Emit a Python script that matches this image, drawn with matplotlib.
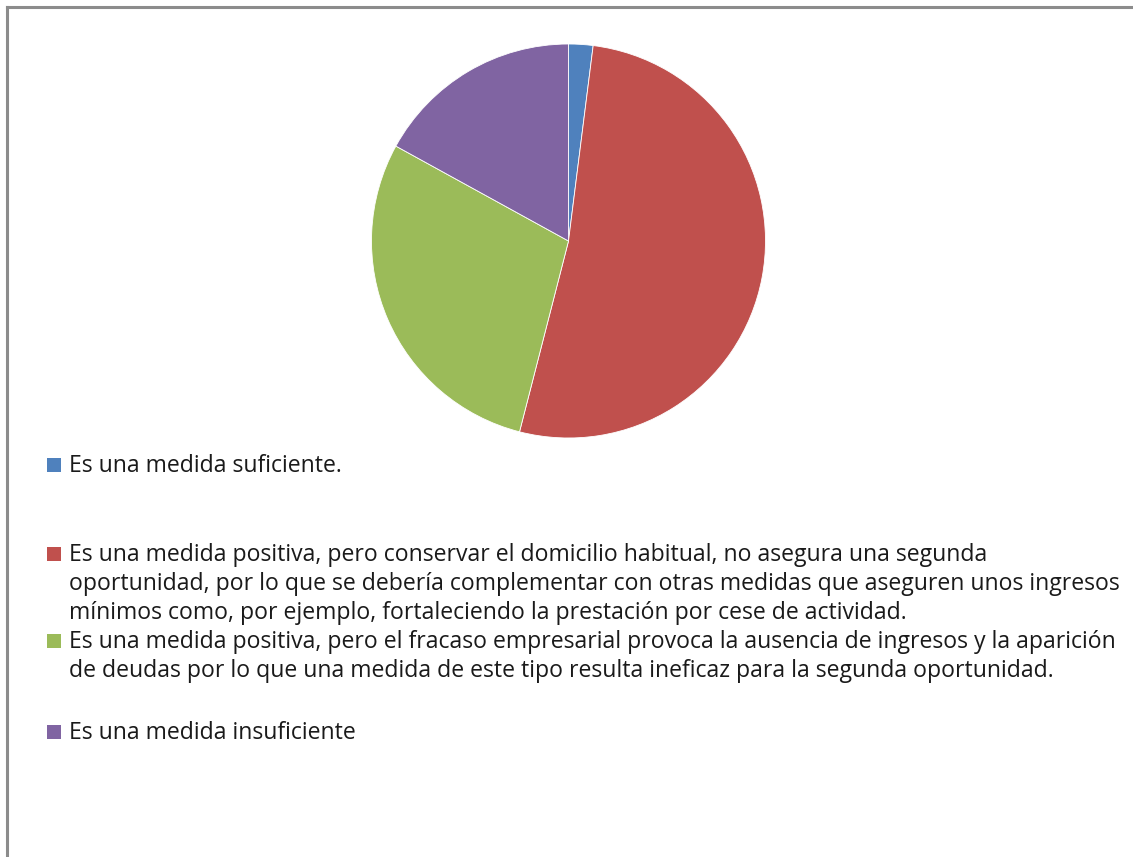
"""Pie chart: valoración de la medida (segunda oportunidad)."""

import matplotlib.pyplot as plt
from matplotlib.lines import Line2D
from matplotlib.patches import Rectangle

# Office 2007 palette
BLUE = "#4F81BD"
RED = "#C0504D"
GREEN = "#9BBB59"
PURPLE = "#8064A2"
BORDER = "#8C8C8C"
TEXT = "#1A1A1A"

shares = [2, 52, 29, 17]
colors = [BLUE, RED, GREEN, PURPLE]
labels = [
    "Es una medida suficiente.",
    "Es una medida positiva, pero conservar el domicilio habitual, no asegura una segunda\n"
    "oportunidad, por lo que se debería complementar con otras medidas que aseguren unos ingresos\n"
    "mínimos como, por ejemplo, fortaleciendo la prestación por cese de actividad.",
    "Es una medida positiva, pero el fracaso empresarial provoca la ausencia de ingresos y la aparición\n"
    "de deudas por lo que una medida de este tipo resulta ineficaz para la segunda oportunidad.",
    "Es una medida insuficiente",
]

W, H = 1133, 857
plt.rcParams["font.family"] = ["Open Sans", "DejaVu Sans"]

fig = plt.figure(figsize=(W / 100, H / 100), dpi=100)
fig.patch.set_facecolor("white")

# pie axes, centred at (568, 241) px, radius ~197 px
cx, cy, r = 568.5, 241, 197
ax = fig.add_axes([(cx - r) / W, (H - cy - r) / H, 2 * r / W, 2 * r / H])
ax.pie(shares, colors=colors, startangle=90, counterclock=False,
       wedgeprops=dict(edgecolor="white", linewidth=0.6))
ax.set_xlim(-1, 1)
ax.set_ylim(-1, 1)
ax.set_aspect("equal")
ax.axis("off")

# legend entries: first-line baseline in px, 29 px per wrapped line
baselines = [472, 561, 648, 739]
pitch = 29
for lab, col, base in zip(labels, colors, baselines):
    fig.add_artist(Rectangle((47 / W, 1 - base / H), 14 / W, 14 / H,
                             transform=fig.transFigure, facecolor=col,
                             edgecolor="none"))
    for i, line in enumerate(lab.split("\n")):
        fig.text(69 / W, 1 - (base + i * pitch) / H, line, ha="left",
                 va="baseline", fontsize=16.6, color=TEXT)

# chart border (top and left visible)
fig.add_artist(Line2D([6.5 / W, 6.5 / W], [0, 1 - 6.5 / H], color=BORDER,
                      lw=2.2, transform=fig.transFigure))
fig.add_artist(Line2D([6.5 / W, 1], [1 - 6.5 / H, 1 - 6.5 / H], color=BORDER,
                      lw=2.2, transform=fig.transFigure))

fig.savefig("out.png", dpi=100)
